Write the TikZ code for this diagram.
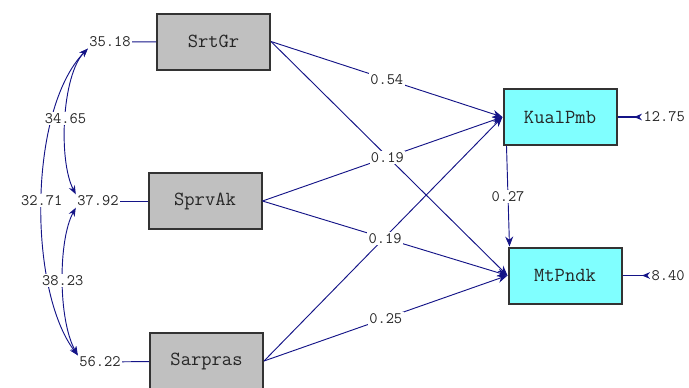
\documentclass[tikz,border=0pt]{standalone}
\usepackage{fontspec}
\usetikzlibrary{arrows.meta}
\definecolor{pathblue}{RGB}{20,20,135}
\definecolor{boxgray}{RGB}{192,192,192}
\definecolor{boxcyan}{RGB}{128,255,255}
\tikzset{
  exo/.style={draw=black!80, line width=1.5pt, fill=boxgray, minimum width=84.75pt, minimum height=42pt, text=black!85, font=\ttfamily\fontsize{15}{17}\selectfont},
  endo/.style={exo, fill=boxcyan},
  coef/.style={fill=white, inner sep=1pt, text=black!85, font=\ttfamily\fontsize{12}{13}\selectfont},
  path/.style={pathblue, line width=0.7pt, -{Stealth[length=7.5pt,width=6pt]}},
  cov/.style={pathblue, line width=0.7pt, {Stealth[length=6.5pt,width=5pt]}-{Stealth[length=6.5pt,width=5pt]}},
  err/.style={pathblue, line width=0.9pt, -{Stealth[reversed,length=6pt,width=5pt]}}
}
\begin{document}
\begin{tikzpicture}[x=0.75pt, y=-0.75pt]
\useasboundingbox (0,0) rectangle (689,387);
\node[exo] (srtgr) at (213.5,41.5) {SrtGr};
\node[exo] (sprvak) at (205,201) {SprvAk};
\node[exo] (sarpras) at (206.5,361) {Sarpras};
\node[endo] (kualpmb) at (560,117) {KualPmb};
\node[endo] (mtpndk) at (565,275.5) {MtPndk};
% variances of the exogenous variables
\node[coef] (e1) at (110,42) {35.18};
\node[coef] (e2) at (98,201) {37.92};
\node[coef] (e3) at (100,362) {56.22};
\draw[pathblue, line width=0.7pt] (e1) -- (srtgr);
\draw[pathblue, line width=0.7pt] (e2) -- (sprvak);
\draw[pathblue, line width=0.7pt] (e3) -- (sarpras);
% covariances
\draw[cov] (e1.south west) .. controls (28,110) and (28,290) .. node[coef, pos=0.5] {32.71} (e3.north west);
\draw[cov] (e1.south west) .. controls (62,75) and (58,160) .. node[coef, pos=0.5] {34.65} (e2.north west);
\draw[cov] (e2.south west) .. controls (58,240) and (58,320) .. node[coef, pos=0.5] {38.23} (e3.north west);
% structural paths
\draw[path] (srtgr.east) -- (mtpndk.west);
\draw[path] (sarpras.east) -- (kualpmb.west);
\draw[path] (srtgr.east) -- node[coef, pos=0.5] {0.54} (kualpmb.west);
\draw[path] (sprvak.east) -- node[coef, pos=0.52] {0.19} (kualpmb.west);
\draw[path] (sprvak.east) -- node[coef, pos=0.5] {0.19} (mtpndk.west);
\draw[path] (sarpras.east) -- node[coef, pos=0.5] {0.25} (mtpndk.west);
\draw[path] ([xshift=3pt]kualpmb.south west) -- node[coef, pos=0.5] {0.27} ([xshift=1.5pt]mtpndk.north west);
% error variances
\node[coef, anchor=west] (d1) at (642,117) {12.75};
\node[coef, anchor=west] (d2) at (650,275.5) {8.40};
\draw[err] (kualpmb.east) -- (d1.west);
\draw[err] (mtpndk.east) -- (d2.west);
\end{tikzpicture}
\end{document}
